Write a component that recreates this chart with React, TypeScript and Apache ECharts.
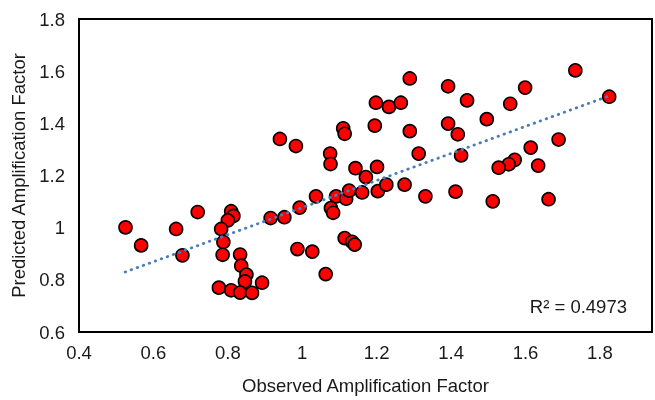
import React, { useEffect, useRef } from "react";
import * as echarts from "echarts";

const observed: number[] = [
  0.525, 0.567, 0.661, 0.719, 0.678, 0.809, 0.815, 0.8, 0.782, 0.788,
  0.786, 0.833, 0.836, 0.85, 0.846, 0.776, 0.809, 0.833, 0.865, 0.892,
  0.915, 0.952, 0.993, 1.037, 1.091, 1.077, 1.083, 1.118, 1.126, 1.161,
  1.171, 1.203, 1.226, 1.275, 1.331, 1.412, 0.987, 1.027, 1.114, 1.134,
  1.141, 1.063, 1.512, 1.662, 1.289, 1.392, 1.198, 1.233, 1.265, 1.11,
  1.114, 1.195, 1.289, 1.392, 1.418, 0.94, 0.983, 1.075, 1.076, 1.313,
  1.143, 1.201, 1.734, 1.825, 1.443, 1.599, 1.559, 1.496, 1.427, 1.689,
  1.614, 1.571, 1.555, 1.528, 1.634,
];

const predicted: number[] = [
  1.001, 0.932, 0.995, 1.06, 0.894, 1.063, 1.045, 1.028, 0.995, 0.945,
  0.896, 0.897, 0.854, 0.82, 0.794, 0.77, 0.76, 0.751, 0.75, 0.789,
  1.037, 1.04, 1.077, 1.12, 1.12, 1.075, 1.057, 1.111, 1.142, 1.135,
  1.194, 1.14, 1.165, 1.165, 1.12, 1.138, 0.918, 0.908, 0.96, 0.946,
  0.935, 0.822, 1.101, 1.109, 1.572, 1.542, 1.479, 1.463, 1.479, 1.381,
  1.36, 1.391, 1.37, 1.399, 1.358, 1.34, 1.313, 1.284, 1.244, 1.284,
  1.228, 1.233, 1.603, 1.502, 1.488, 1.537, 1.475, 1.416, 1.277, 1.338,
  1.307, 1.26, 1.243, 1.23, 1.238,
];

const trendX: number[] = [0.524, 1.819];
const trendY: number[] = [0.83, 1.502];

const xTitle = "Observed Amplification Factor";
const yTitle = "Predicted Amplification Factor";
const r2Label = "R² = 0.4973";

const FONT = '"Liberation Sans", Arial, sans-serif';
const FS = 18.5;
const TXT = "#1a1a1a";

export default function App() {
  const ref = useRef<HTMLDivElement>(null);

  useEffect(() => {
    if (!ref.current) return;
    const chart = echarts.init(ref.current, undefined, { renderer: "svg" });
    const points = observed.map((x, i) => [x, predicted[i]]);
    const trend = trendX.map((x, i) => [x, trendY[i]]);
    chart.setOption({
      animation: false,
      textStyle: { fontFamily: FONT },
      grid: {
        left: 79,
        top: 19,
        right: 3,
        bottom: 63,
        show: true,
        borderColor: "#000",
        borderWidth: 2,
        backgroundColor: "#fff",
      },
      xAxis: {
        type: "value",
        min: 0.4,
        max: 1.94,
        interval: 0.2,
        name: xTitle,
        nameLocation: "middle",
        nameGap: 44,
        nameTextStyle: { fontSize: FS, color: TXT, fontFamily: FONT },
        axisLine: { show: true, lineStyle: { color: "#000", width: 2 } },
        axisTick: { show: false },
        splitLine: { show: false },
        axisLabel: {
          fontSize: FS,
          color: TXT,
          margin: 11,
          showMaxLabel: false,
          fontFamily: FONT,
        },
      },
      yAxis: {
        type: "value",
        min: 0.6,
        max: 1.8,
        interval: 0.2,
        name: yTitle,
        nameLocation: "middle",
        nameGap: 47,
        nameTextStyle: { fontSize: FS, color: TXT, fontFamily: FONT },
        axisLine: { show: true, lineStyle: { color: "#000", width: 2 } },
        axisTick: { show: false },
        splitLine: { show: false },
        axisLabel: { fontSize: FS, color: TXT, margin: 14, fontFamily: FONT },
      },
      series: [
        {
          type: "scatter",
          data: points,
          symbol: "circle",
          symbolSize: 13,
          itemStyle: {
            color: "#ff0000",
            borderColor: "#000",
            borderWidth: 1.6,
            opacity: 1,
          },
          z: 2,
        },
        {
          type: "line",
          data: trend,
          symbol: "none",
          z: 3,
          lineStyle: {
            color: "#4a7ebb",
            width: 2.8,
            type: [0.5, 5.9],
            cap: "round",
          },
        },
      ],
      graphic: [
        {
          type: "text",
          x: 627,
          y: 306,
          style: {
            text: r2Label,
            font: `${FS}px ${FONT}`,
            fill: TXT,
            textAlign: "right",
            textVerticalAlign: "middle",
          },
        },
      ],
    });
    return () => chart.dispose();
  }, []);

  return (
    <div
      ref={ref}
      style={{ position: "fixed", left: 0, top: 0, width: 655, height: 400 }}
    />
  );
}
